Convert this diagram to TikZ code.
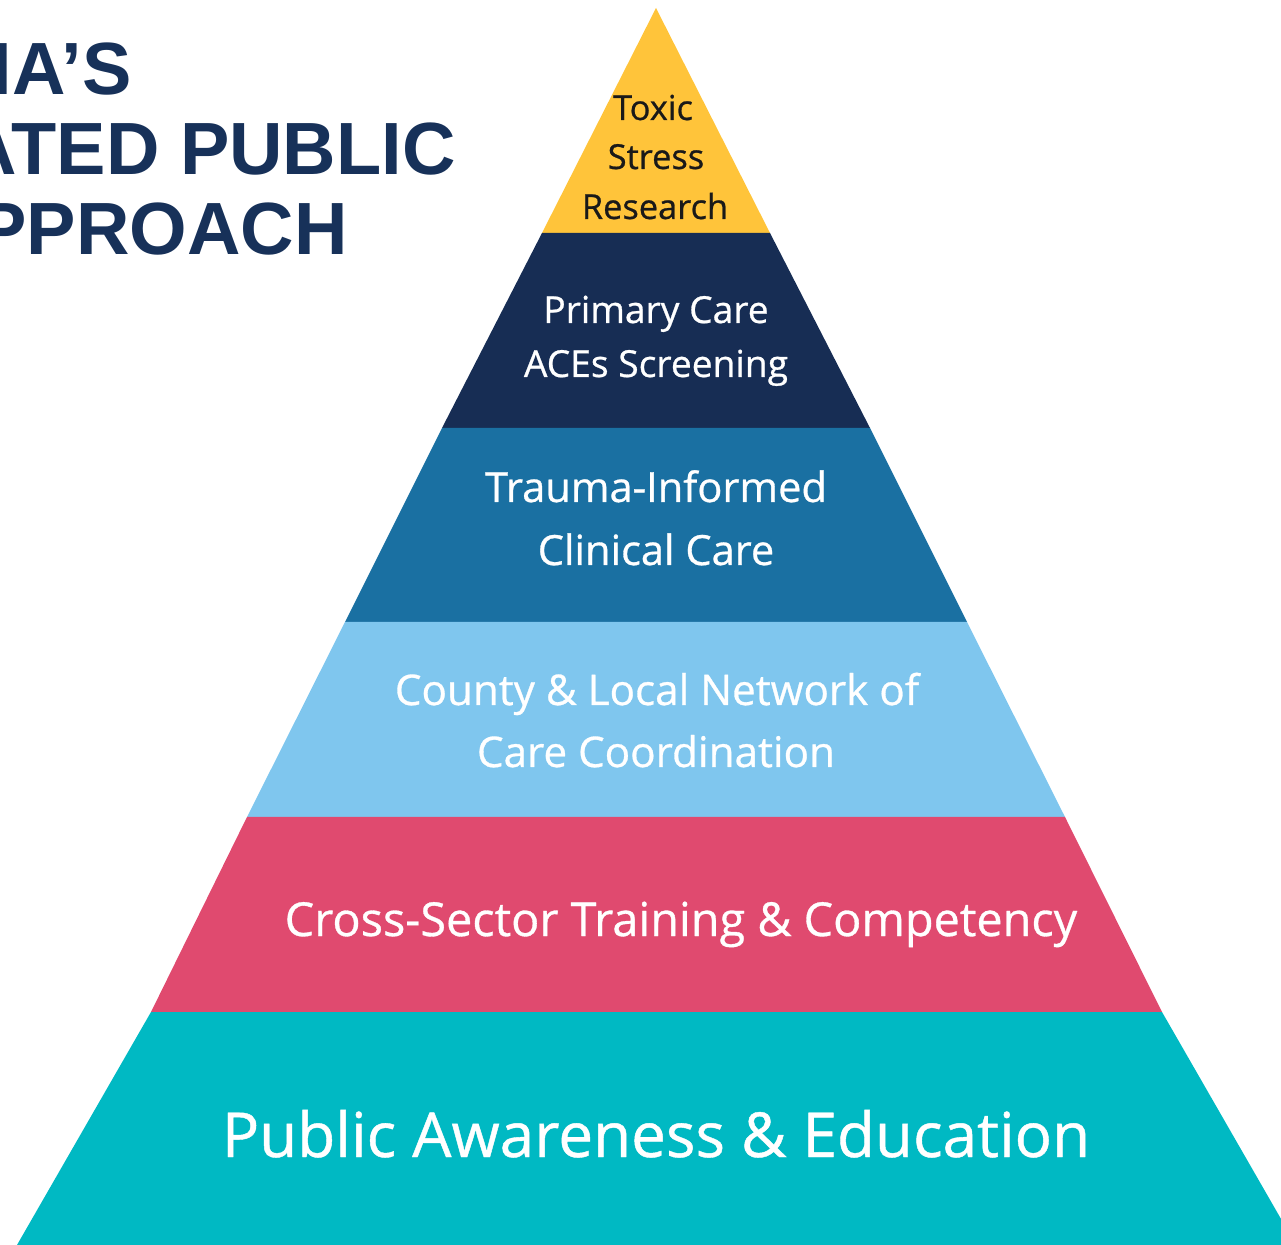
\documentclass[tikz,border=0pt]{standalone}
\usepackage{fontspec}
\setmainfont{Open Sans}[FakeBold=0.7]
\newfontfamily\titlefont{Liberation Sans}
\usepackage{tikz}

\definecolor{titlenavy}{HTML}{173159}
\definecolor{toxicyellow}{HTML}{FFC43A}
\definecolor{primarynavy}{HTML}{172D54}
\definecolor{traumablue}{HTML}{1A70A2}
\definecolor{countyblue}{HTML}{7FC6EE}
\definecolor{crosspink}{HTML}{E04A6F}
\definecolor{publicteal}{HTML}{00B9C3}

\tikzset{
  heading/.style={inner sep=0pt, anchor=base east, text=titlenavy,
    font=\titlefont\bfseries\fontsize{37}{40}\selectfont},
  layertext/.style={inner sep=0pt, anchor=base, text=white},
}

\begin{document}
\begin{tikzpicture}[x=0.5pt,y=-0.5pt]
  \useasboundingbox (0,0) rectangle (1281,1245);
  \clip (0,0) rectangle (1281,1245);
  % pyramid layers, top to bottom
  \fill[toxicyellow] (656,8) -- (770,233) -- (542,233) -- cycle;
  \fill[primarynavy] (542,233) -- (770,233) -- (870,428) -- (442,428) -- cycle;
  \fill[traumablue] (442,428) -- (870,428) -- (967,622) -- (345,622) -- cycle;
  \fill[countyblue] (345,622) -- (967,622) -- (1065,817) -- (247,817) -- cycle;
  \fill[crosspink] (247,817) -- (1065,817) -- (1162,1012) -- (151,1012) -- cycle;
  \fill[publicteal] (151,1012) -- (1162,1012) -- (1296,1245) -- (17,1245) -- cycle;
  % title, cut at the left edge
  \node[heading] (title1) at (132,95) {IA’S};
  \node[heading] (title2) at (456,175) {ATED PUBLIC};
  \node[heading] (title3) at (348,255) {PPROACH};
  % layer texts
  \begin{scope}[every node/.append style={font=\fontsize{17.2}{20}\selectfont}]
    \node[layertext, text=black!90] (toxic) at (653,120) {Toxic};
    \node[layertext, text=black!90] (stress) at (656,169) {Stress};
    \node[layertext, text=black!90] (research) at (655,219) {Research};
  \end{scope}
  \begin{scope}[every node/.append style={font=\fontsize{18.6}{22}\selectfont}]
    \node[layertext] (primary) at (656,323) {Primary Care};
    \node[layertext] (aces) at (656,377) {ACEs Screening};
  \end{scope}
  \begin{scope}[every node/.append style={font=\fontsize{20.8}{24}\selectfont}]
    \node[layertext] (trauma) at (656,502) {Trauma-Informed};
    \node[layertext] (clinical) at (656,565) {Clinical Care};
  \end{scope}
  \begin{scope}[every node/.append style={font=\fontsize{21.1}{25}\selectfont}]
    \node[layertext] (county) at (657,705) {County \& Local Network of};
    \node[layertext] (carecoord) at (656,767) {Care Coordination};
  \end{scope}
  \node[layertext, font=\fontsize{23.4}{27}\selectfont] (cross) at (681,936) {Cross-Sector Training \& Competency};
  \node[layertext, font=\fontsize{31}{36}\selectfont] (public) at (656,1157) {Public Awareness \& Education};
\end{tikzpicture}
\end{document}
